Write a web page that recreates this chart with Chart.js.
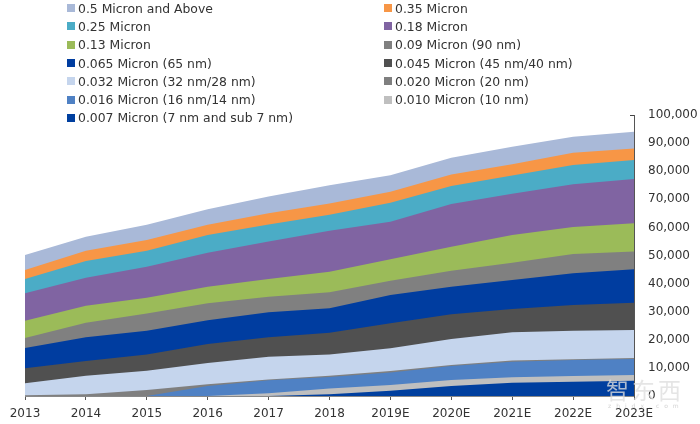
<!DOCTYPE html>
<html>
<head>
<meta charset="utf-8">
<script src="https://cdn.jsdelivr.net/npm/chart.js@4"></script>
<style>
  html, body { margin: 0; padding: 0; background: #fff; }
  #wrap { position: relative; width: 700px; height: 424px; overflow: hidden; }
  #legend { position: absolute; left: 67px; top: -1px; width: 633px; display: grid; grid-template-columns: 317px 300px; grid-auto-rows: 18.3px; font: 12.4px "DejaVu Sans", sans-serif; color: #333; }
  #legend div { display: flex; align-items: center; white-space: nowrap; }
  #legend span { width: 8px; height: 8px; margin-right: 3px; flex: none; }
  #mark { position: absolute; left: 606px; top: 374px; font: 23px/30px "Noto Sans CJK SC", sans-serif; color: rgba(222,222,222,0.78); letter-spacing: 3px; white-space: nowrap; }
  #markUrl { position: absolute; left: 608px; top: 402px; font: 6px/8px "DejaVu Sans", sans-serif; color: rgba(200,200,200,0.8); letter-spacing: 5px; white-space: nowrap; }
</style>
</head>
<body>
<div id="wrap">
  <canvas id="chart" width="700" height="424"></canvas>
  <div id="legend"></div>
  <div id="mark">智东西</div>
  <div id="markUrl">zhidx.com</div>
</div>
<script>
const years = ["2013", "2014", "2015", "2016", "2017", "2018", "2019E", "2020E", "2021E", "2022E", "2023E"];

// values per node, bottom of the stack first
const nm7 = [0, 0, 0, 0, 0, 600, 1900, 3600, 4700, 5100, 5400];
const nm10 = [0, 0, 0, 0, 1000, 2100, 2000, 2100, 2000, 2000, 2100];
const nm16 = [0, 0, 0, 3600, 4600, 4100, 4500, 5000, 5500, 5700, 5700];
const nm20 = [300, 600, 2100, 600, 300, 400, 500, 300, 400, 300, 300];
const nm32 = [4200, 6600, 6900, 7500, 8100, 7600, 8100, 9300, 10100, 10100, 10000];
const nm45 = [5400, 5300, 5800, 6800, 6900, 7700, 8900, 8800, 8300, 9200, 9700];
const nm65 = [7200, 8400, 8400, 8500, 8900, 8700, 10000, 9800, 10300, 11300, 11900];
const nm90 = [3500, 5200, 6200, 6000, 5500, 5700, 5100, 5700, 6100, 6800, 6300];
const um13 = [6200, 6000, 5600, 5900, 6300, 7300, 7700, 8500, 9900, 9600, 10100];
const um18 = [9800, 10000, 11000, 12100, 13400, 14600, 13300, 15200, 14700, 15300, 15700];
const um25 = [5000, 5900, 5700, 6300, 6000, 5700, 6800, 6400, 6500, 6800, 6800];
const um35 = [3200, 3700, 3800, 3600, 4000, 4000, 3900, 4100, 4000, 4400, 4100];
const um50 = [5400, 5000, 5400, 5600, 6000, 6500, 5900, 6000, 6200, 5700, 5900];

const series = [
  { label: "0.5 Micron and Above", values: um50, color: "#a9b9d8" },
  { label: "0.35 Micron", values: um35, color: "#f79646" },
  { label: "0.25 Micron", values: um25, color: "#4bacc6" },
  { label: "0.18 Micron", values: um18, color: "#8064a2" },
  { label: "0.13 Micron", values: um13, color: "#9bbb59" },
  { label: "0.09 Micron (90 nm)", values: nm90, color: "#808080" },
  { label: "0.065 Micron (65 nm)", values: nm65, color: "#003da0" },
  { label: "0.045 Micron (45 nm/40 nm)", values: nm45, color: "#505050" },
  { label: "0.032 Micron (32 nm/28 nm)", values: nm32, color: "#c5d5ed" },
  { label: "0.020 Micron (20 nm)", values: nm20, color: "#7f7f7f" },
  { label: "0.016 Micron (16 nm/14 nm)", values: nm16, color: "#4f81c4" },
  { label: "0.010 Micron (10 nm)", values: nm10, color: "#bfbfbf" },
  { label: "0.007 Micron (7 nm and sub 7 nm)", values: nm7, color: "#003f9f" },
];

document.getElementById("legend").innerHTML = series
  .map((s) => `<div><span style="background:${s.color}"></span>${s.label}</div>`)
  .join("");

new Chart(document.getElementById("chart"), {
  type: "line",
  data: {
    labels: years,
    datasets: series.slice().reverse().map((s) => ({
      label: s.label,
      data: s.values,
      backgroundColor: s.color,
      borderWidth: 0,
      pointRadius: 0,
      tension: 0,
      fill: "origin",
    })),
  },
  options: {
    responsive: false,
    animation: false,
    layout: { padding: { left: 25, top: 115, right: 0, bottom: 0 } },
    plugins: { legend: { display: false }, tooltip: { enabled: false } },
    scales: {
      x: {
        offset: false,
        afterFit: (scale) => { scale.height = 28; },
        grid: { drawOnChartArea: false, color: "#555", tickLength: 4 },
        border: { color: "#888" },
        ticks: { color: "#333", font: { family: "DejaVu Sans", size: 12 }, padding: 7, maxRotation: 0, autoSkip: false },
      },
      y: {
        position: "right",
        stacked: true,
        min: 0,
        max: 100000,
        afterFit: (scale) => { scale.width = 66; },
        grid: { drawOnChartArea: false, color: "#444", tickLength: -4 },
        border: { color: "#555" },
        ticks: {
          stepSize: 10000,
          color: "#333",
          font: { family: "DejaVu Sans", size: 12 },
          padding: 18,
          callback: (v) => v.toLocaleString("en-US"),
        },
      },
    },
  },
});
</script>
</body>
</html>
